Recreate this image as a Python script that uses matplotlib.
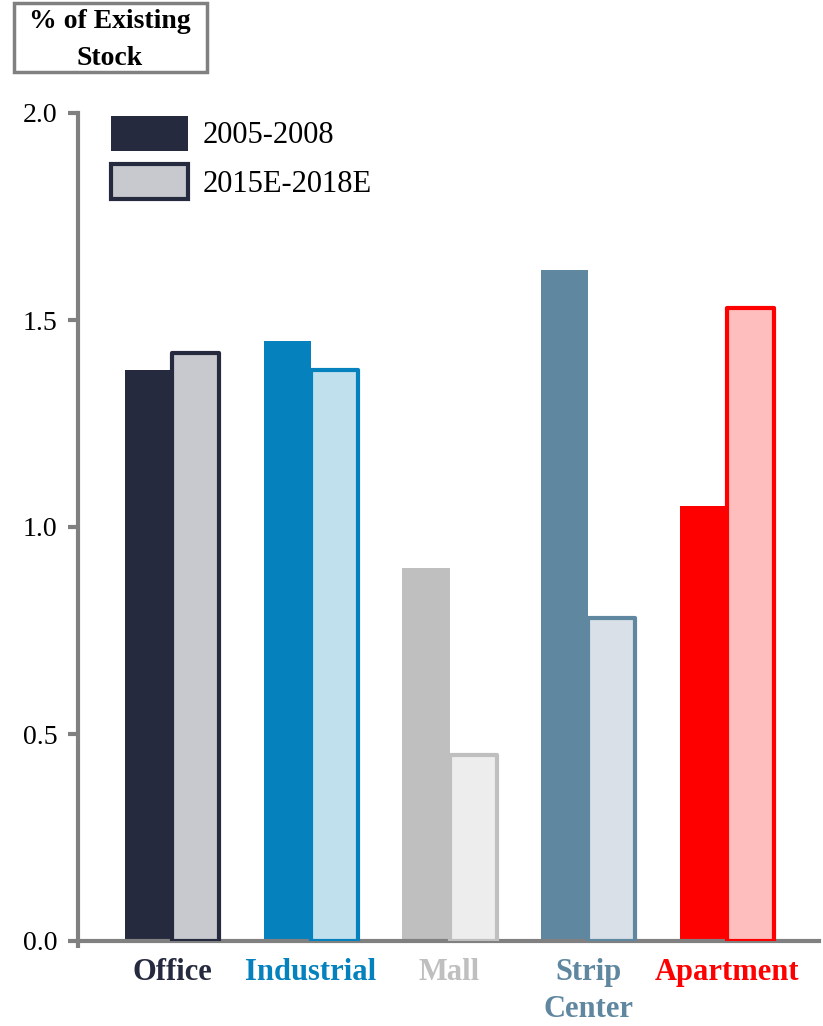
import numpy as np
import matplotlib.pyplot as plt
from matplotlib.patches import Patch, Rectangle

categories = ['Office', 'Industrial', 'Mall', 'Strip\nCenter', 'Apartment']
period_1 = [1.38, 1.45, 0.90, 1.62, 1.05]   # 2005-2008
period_2 = [1.42, 1.38, 0.45, 0.78, 1.53]   # 2015E-2018E
dark_colors = ['#252A3E', '#0581BD', '#BFBFBF', '#5F87A0', '#FF0000']
light_colors = ['#C8C9CE', '#C0E0EE', '#EDEDED', '#D9E0E7', '#FFBEBE']
yticks = [0.0, 0.5, 1.0, 1.5, 2.0]

plt.rcParams['font.family'] = ['Liberation Serif', 'DejaVu Serif']

W, H = 823, 1026
fig = plt.figure(figsize=(W / 100, H / 100), dpi=100)
ax = fig.add_axes([78 / W, 1 - 941 / H, 741 / W, 828 / H])

x = np.arange(len(categories))
w = 0.34
ax.bar(x - w / 2, period_1, w, color=dark_colors, linewidth=0, zorder=2)
ax.bar(x + w / 2, period_2, w, color=light_colors, edgecolor=dark_colors,
       linewidth=3, joinstyle='round', zorder=3)

ax.set_xlim(-0.68, 4.665)
ax.set_ylim(0, 2.0)
ax.set_yticks(yticks)
ax.set_yticklabels([f'{v:.1f}' for v in yticks], fontsize=20)
ax.tick_params(axis='y', direction='out', length=7, width=3, color='#808080', pad=8)
ax.set_xticks([-0.68], minor=True)
ax.tick_params(axis='x', which='minor', direction='out', length=5, width=3, color='#808080')
ax.set_xticks([])

for s in ['top', 'right']:
    ax.spines[s].set_visible(False)
for s in ['left', 'bottom']:
    ax.spines[s].set_color('#808080')
    ax.spines[s].set_linewidth(3)

for i, (cat, c) in enumerate(zip(categories, dark_colors)):
    ax.text(i, -0.04, cat, ha='center', va='top', fontsize=22, fontweight='bold',
            color=c, linespacing=1.4)

handles = [Patch(facecolor=dark_colors[0], edgecolor='none'),
           Patch(facecolor=light_colors[0], edgecolor=dark_colors[0], linewidth=3)]
ax.legend(handles, ['2005-2008', '2015E-2018E'], loc='upper left',
          bbox_to_anchor=(0.008, 1.03), frameon=False, fontsize=22,
          handlelength=2.5, handleheight=1.4, handletextpad=0.5, labelspacing=0.42)

# label box in the top-left corner
fig.patches.append(Rectangle((14 / W, 1 - 72 / H), 193 / W, 69 / H,
                             transform=fig.transFigure, facecolor='white',
                             edgecolor='#808080', linewidth=2.5))
fig.text(110 / W, 1 - 40 / H, '% of Existing\nStock', ha='center', va='center',
         fontsize=20, fontweight='bold', linespacing=1.6)

fig.savefig('out.png', dpi=100)
